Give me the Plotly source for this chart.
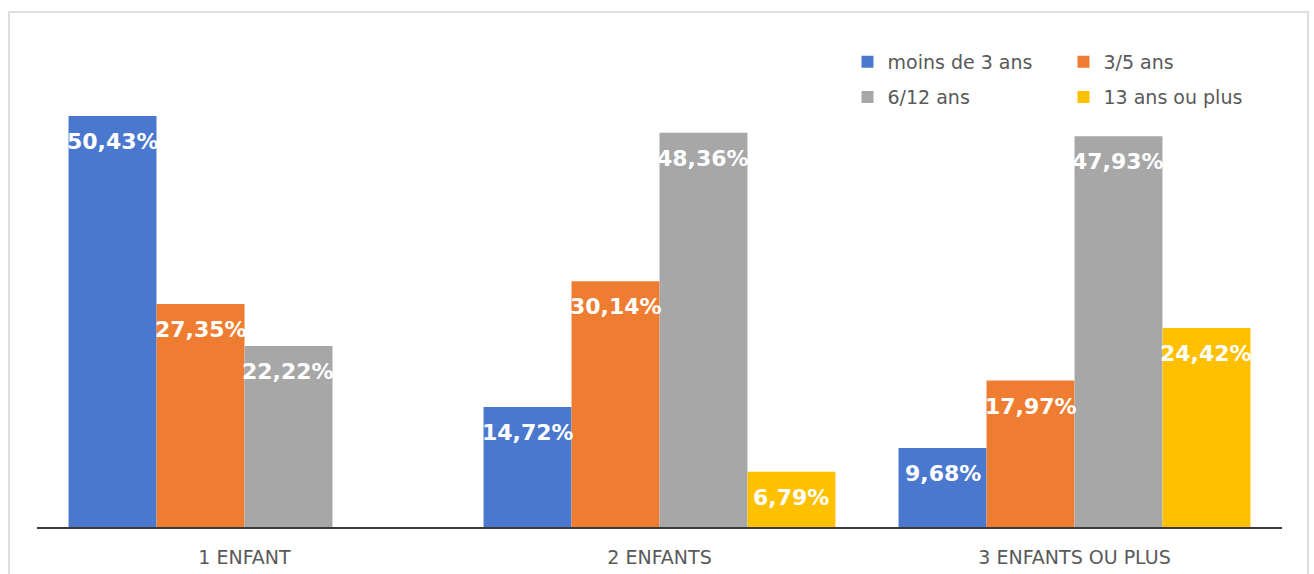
import plotly.graph_objects as go

categories = ["1 ENFANT", "2 ENFANTS", "3 ENFANTS OU PLUS"]
series_names = ["moins de 3 ans", "3/5 ans", "6/12 ans", "13 ans ou plus"]
moins_de_3 = [50.43, 14.72, 9.68]
ans_3_5 = [27.35, 30.14, 17.97]
ans_6_12 = [22.22, 48.36, 47.93]
ans_13_plus = [None, 6.79, 24.42]

series_values = [moins_de_3, ans_3_5, ans_6_12, ans_13_plus]
colors = ["#4A78CF", "#EE7D31", "#A7A7A7", "#FFC000"]
legends = ["legend", "legend", "legend2", "legend2"]

BARGAP = 0.152
n = len(series_values)
xpos = list(range(len(categories)))

fig = go.Figure()
annotations = []
for j, (name, vals, col, lg) in enumerate(zip(series_names, series_values, colors, legends)):
    fig.add_trace(go.Bar(
        x=xpos, y=vals, name=name, marker=dict(color=col, line=dict(width=0)),
        legend=lg, hoverinfo="skip",
    ))
    w = (1 - BARGAP) / n
    off = -(1 - BARGAP) / 2 + (j + 0.5) * w
    for i, v in enumerate(vals):
        if v is None:
            continue
        annotations.append(dict(
            x=xpos[i] + off, y=v, xref="x", yref="y",
            text=f"{v:.2f}%".replace(".", ","), showarrow=False,
            yanchor="top", xanchor="center", yshift=-11,
            font=dict(family="DejaVu Sans", size=22, color="white", weight="bold"),
        ))

legend_common = dict(
    orientation="h", xanchor="left", yanchor="middle",
    bgcolor="rgba(0,0,0,0)", entrywidth=171, itemwidth=30,
    font=dict(family="DejaVu Sans", size=19, color="#595959"),
)

fig.update_layout(
    width=1314, height=574,
    margin=dict(l=37, r=32, t=38, b=47, autoexpand=False),
    paper_bgcolor="white", plot_bgcolor="white",
    barmode="group", bargap=BARGAP, bargroupgap=0,
    showlegend=True,
    legend=dict(x=0.651, y=0.951, **legend_common),
    legend2=dict(x=0.651, y=0.879, **legend_common),
    xaxis=dict(
        range=[-0.5, len(categories) - 0.5], tickmode="array", tickvals=xpos,
        ticktext=categories, showgrid=False, zeroline=False,
        showline=True, linecolor="#3a3a3a", linewidth=2, ticks="",
        ticklabelstandoff=12, automargin=False,
        tickfont=dict(family="DejaVu Sans", size=19, color="#595959"),
    ),
    yaxis=dict(range=[0, 60], visible=False, showgrid=False, zeroline=False),
    annotations=annotations,
    shapes=[dict(
        type="rect", xref="paper", yref="paper",
        x0=-0.0225, x1=1.0209, y0=-0.2, y1=1.0532,
        line=dict(color="#D4D4D4", width=1.5), fillcolor="rgba(0,0,0,0)", layer="below",
    )],
)

fig.write_html("out.html")
